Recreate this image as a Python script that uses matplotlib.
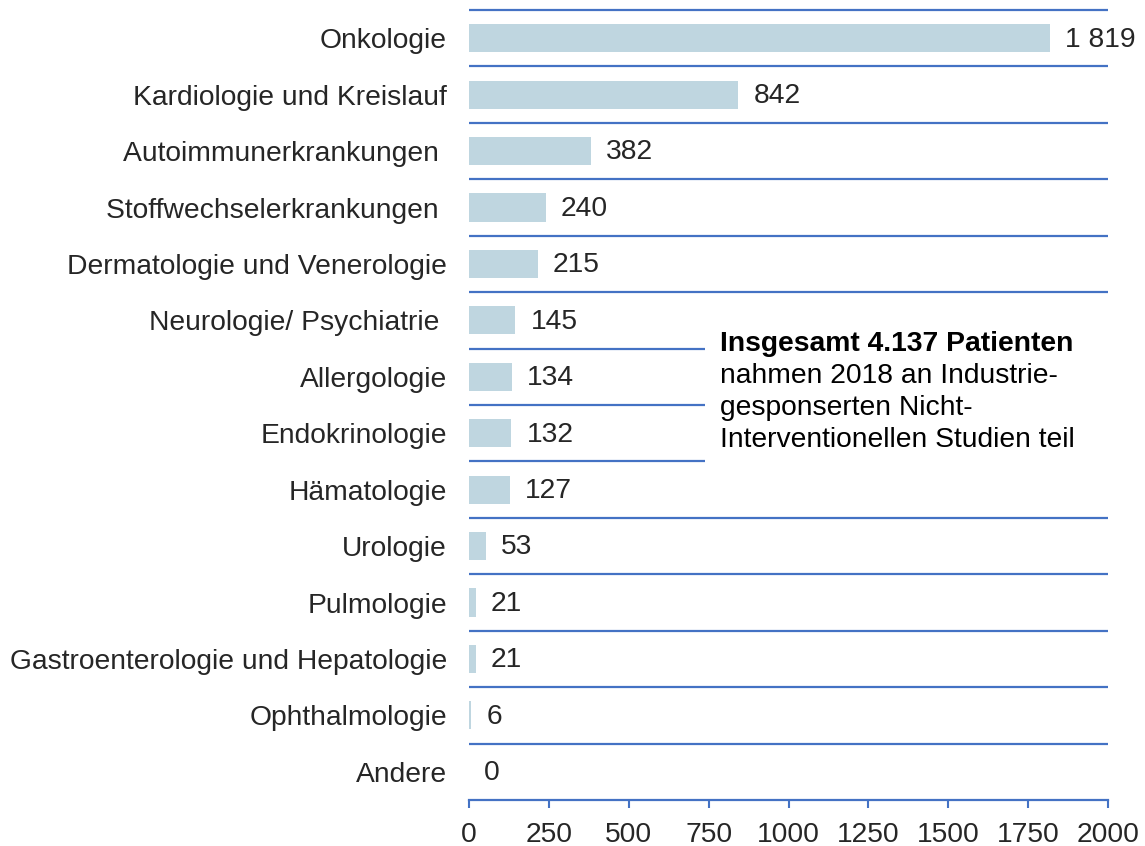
import matplotlib
matplotlib.use("Agg")
import matplotlib.pyplot as plt
from matplotlib.patches import Rectangle

categories = ["Onkologie", "Kardiologie und Kreislauf", "Autoimmunerkrankungen ",
              "Stoffwechselerkrankungen ", "Dermatologie und Venerologie",
              "Neurologie/ Psychiatrie ", "Allergologie", "Endokrinologie",
              "Hämatologie", "Urologie", "Pulmologie",
              "Gastroenterologie und Hepatologie", "Ophthalmologie", "Andere"]
values = [1819, 842, 382, 240, 215, 145, 134, 132, 127, 53, 21, 21, 6, 0]
value_labels = ["1 819", "842", "382", "240", "215", "145", "134", "132",
                "127", "53", "21", "21", "6", "0"]
xticks = [0, 250, 500, 750, 1000, 1250, 1500, 1750, 2000]
note_title = "Insgesamt 4.137 Patienten"
note_lines = ["nahmen 2018 an Industrie-", "gesponserten Nicht-",
              "Interventionellen Studien teil"]

plt.rcParams['font.family'] = ['Liberation Sans', 'DejaVu Sans']
TXT = '#262626'
BLUE = '#4472C4'
BAR = '#BFD6E0'
FS = 20.3

W, H = 1145, 846
fig = plt.figure(figsize=(W/100, H/100), dpi=100)
ax = fig.add_axes([469/W, 1-800/H, 639/W, 790/H])

ypos = list(range(len(categories)))
ax.barh(ypos, values, height=0.5, color=BAR, zorder=2)
ax.set_xlim(0, 2000)
ax.set_ylim(len(categories)-0.5, -0.5)

# separator lines between categories
ax.hlines([i-0.5 for i in range(len(categories))], 0, 2000, color=BLUE,
          linewidth=1.6, zorder=1, clip_on=False)

for y, v, lab in zip(ypos, values, value_labels):
    ax.annotate(lab, (v, y), xytext=(11, -1), textcoords='offset points',
                va='center', ha='left', fontsize=FS, color=TXT)

ax.set_yticks(ypos)
ax.set_yticklabels(categories, fontsize=FS, color=TXT)
ax.tick_params(axis='y', length=0, pad=16)
ax.set_xticks(xticks)
ax.set_xticklabels([str(t) for t in xticks], fontsize=FS, color=TXT)
ax.tick_params(axis='x', length=5.5, width=1.5, color=BLUE, pad=10)

for s in ['top', 'right', 'left']:
    ax.spines[s].set_visible(False)
ax.spines['bottom'].set_color(BLUE)
ax.spines['bottom'].set_linewidth(1.6)

# text box covering grid lines
ax.add_patch(Rectangle((0.369, 0.39), 0.65, 0.22, transform=ax.transAxes,
                       facecolor='white', edgecolor='none', zorder=3, clip_on=False))
tx = (720-469)/639
def ay(py):
    return 1-(py-10)/790
ax.text(tx, ay(351), note_title, transform=ax.transAxes,
        fontsize=FS, fontweight='bold', color='black', va='baseline', ha='left', zorder=4)
for i, line in enumerate(note_lines):
    ax.text(tx, ay(383 + 32*i), line, transform=ax.transAxes, fontsize=FS,
            color='black', va='baseline', ha='left', zorder=4)

fig.savefig("out.png", dpi=100)
